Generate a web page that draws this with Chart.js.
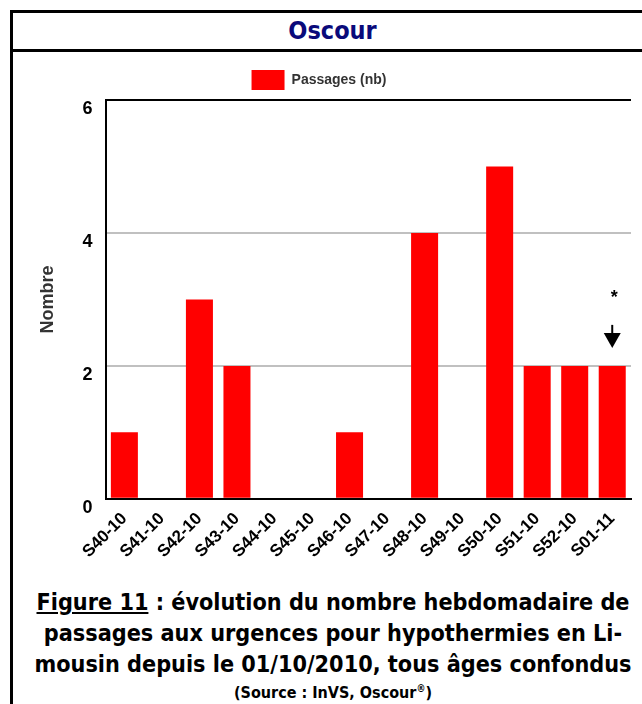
<!DOCTYPE html>
<html><head><meta charset="utf-8">
<script src="https://cdn.jsdelivr.net/npm/chart.js@4/dist/chart.umd.min.js"></script>
<style>
html,body{margin:0;padding:0;background:#fff;width:642px;height:704px;overflow:hidden;}
#frame{position:absolute;left:10px;top:10px;width:660px;height:720px;border-left:3px solid #000;border-top:3px solid #000;}
#title{position:absolute;left:10px;top:13px;width:645px;height:36px;text-align:center;font:bold 25px "DejaVu Sans Condensed","Liberation Sans",sans-serif;color:#0a0a7a;line-height:36px;}
#sep{position:absolute;left:10px;top:49px;width:640px;height:3px;background:#000;}
#wrap{position:absolute;left:0;top:52px;width:642px;height:514px;}
#cap{position:absolute;left:12px;top:586px;width:642px;text-align:center;font:bold 23.2px "DejaVu Sans Condensed","Liberation Sans",sans-serif;line-height:31px;color:#000;}
#cap u{text-decoration:underline;}
#src{font-size:16px;line-height:20px;display:block;}
</style></head>
<body>
<div id="frame"></div>
<div id="title">Oscour</div>
<div id="sep"></div>
<div id="wrap"><canvas id="c" width="642" height="514"></canvas></div>
<div id="cap"><u>Figure 11</u> : évolution du nombre hebdomadaire de<br>passages aux urgences pour hypothermies en Li-<br>mousin depuis le 01/10/2010, tous âges confondus<br><span id="src">(Source : InVS, Oscour<sup style="font-size:10px">®</sup>)</span></div>
<script>
const weeks = ["S40-10","S41-10","S42-10","S43-10","S44-10","S45-10","S46-10","S47-10","S48-10","S49-10","S50-10","S51-10","S52-10","S01-11"];
const passages = [1,0,3,2,0,0,1,0,4,0,5,2,2,2];
const yTicks = [0,2,4,6];
const seriesName = "Passages (nb)";
const axisTitle = "Nombre";
const noteIndex = 13;

const legendShift = {
  id:'legendShift',
  afterLayout(chart){
    if (chart.legend){ chart.legend.left -= 13; chart.legend.right -= 13; }
  }
};

const notePlugin = {
  id:'note',
  afterDatasetsDraw(chart){
    const ctx = chart.ctx, xs = chart.scales.x, ys = chart.scales.y;
    const x = xs.getPixelForValue(noteIndex);
    const yTop = ys.getPixelForValue(passages[noteIndex]);
    ctx.save();
    ctx.fillStyle = '#000';
    ctx.font = 'bold 18px "Liberation Sans"';
    ctx.textAlign = 'center';
    ctx.textBaseline = 'middle';
    ctx.fillText('*', x+2, yTop-68);
    ctx.strokeStyle = '#000';
    ctx.lineWidth = 2;
    ctx.beginPath(); ctx.moveTo(x, yTop-41); ctx.lineTo(x, yTop-31); ctx.stroke();
    ctx.beginPath(); ctx.moveTo(x-8.5, yTop-33); ctx.lineTo(x+8.5, yTop-33); ctx.lineTo(x, yTop-18); ctx.closePath(); ctx.fill();
    ctx.lineWidth = 2;
    ctx.beginPath(); ctx.moveTo(chart.chartArea.left, chart.chartArea.top); ctx.lineTo(chart.chartArea.right, chart.chartArea.top); ctx.stroke();
    ctx.restore();
  }
};

new Chart(document.getElementById('c'), {
  type:'bar',
  data:{labels:weeks, datasets:[{label:seriesName, data:passages, backgroundColor:'#ff0000', borderWidth:0, barPercentage:0.72, categoryPercentage:1}]},
  options:{
    responsive:false, animation:false,
    layout:{padding:{left:33,right:11,top:1,bottom:0}},
    plugins:{
      legend:{position:'top', labels:{boxWidth:33, boxHeight:20, color:'#333', font:{family:'"Liberation Sans"', size:14, weight:'bold'}, padding:17}},
      tooltip:{enabled:false}
    },
    scales:{
      x:{
        grid:{display:false, drawOnChartArea:false, tickLength:6, tickColor:'#000'},
        border:{color:'#000', width:2},
        ticks:{color:'#000', font:{family:'"Liberation Sans"', size:17, weight:'bold'}, minRotation:45, maxRotation:45, padding:4}
      },
      y:{
        min:0, max:6,
        afterBuildTicks(axis){ axis.ticks = yTicks.map(v=>({value:v})); },
        grid:{color:'#c0c0c0', lineWidth:2, drawTicks:false},
        border:{color:'#000', width:2},
        ticks:{color:'#000', font:{family:'"Liberation Sans"', size:18, weight:'bold', lineHeight:1.0}, padding:13,
               callback:(v)=>['', String(v)]},
        title:{display:true, text:axisTitle, color:'#333', font:{family:'"Liberation Sans"', size:18, weight:'bold'}, padding:{bottom:11}}
      }
    }
  },
  plugins:[legendShift, notePlugin]
});
</script>
</body></html>
